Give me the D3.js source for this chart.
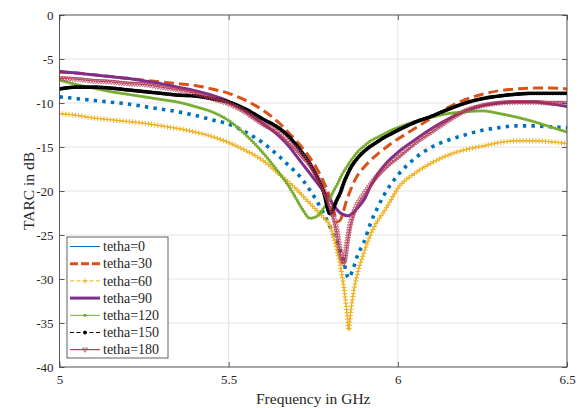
<!DOCTYPE html>
<html>
<head>
<meta charset="utf-8">
<script src="https://cdn.jsdelivr.net/npm/d3@7"></script>
<style>
  body { margin: 0; background: #fff; }
  svg { display: block; }
  svg text { font-family: "Liberation Serif", "DejaVu Serif", serif !important; fill: #262626; }
</style>
</head>
<body>
<svg id="chart" width="586" height="408"></svg>
<script>
// Frequency samples (GHz), denser around the resonance
const freq = [5.00, 5.05, 5.10, 5.15, 5.20, 5.25, 5.30, 5.35, 5.40, 5.45,
              5.50, 5.55, 5.60, 5.65, 5.68,
              5.70, 5.72, 5.74, 5.76, 5.78, 5.80,
              5.81, 5.82, 5.83, 5.84, 5.85, 5.855,
              5.86, 5.87, 5.88,
              5.90, 5.92, 5.94, 5.96, 5.98, 6.00,
              6.05, 6.10, 6.15, 6.20, 6.25, 6.30, 6.35, 6.40, 6.45, 6.50];

// TARC (dB) for each incidence angle
const tarc0 = [-9.3, -9.5, -9.7, -9.9, -10.1, -10.4, -10.7, -11.0, -11.4, -11.9,
               -12.4, -13.3, -14.5, -16.1, -17.2,
               -17.9, -18.8, -19.9, -21.1, -22.5, -24.1,
               -25.0, -25.9, -26.8, -28.0, -29.6, -29.9,
               -29.6, -28.6, -27.4,
               -25.8, -23.6, -21.9, -20.4, -19.2, -18.2,
               -16.3, -15.0, -14.2, -13.6, -13.1, -12.8, -12.6, -12.6, -12.7, -12.8];
const tarc30 = [-6.5, -6.6, -6.8, -7.0, -7.2, -7.4, -7.6, -7.8, -8.0, -8.4,
                -8.9, -9.7, -10.8, -12.3, -13.5,
                -14.3, -15.2, -16.2, -17.4, -18.9, -20.8,
                -22.1, -23.5, -23.3, -22.2, -20.9, -20.4,
                -19.9, -19.0, -18.3,
                -17.3, -16.5, -15.8, -15.2, -14.6, -14.1,
                -12.9, -11.7, -10.5, -9.6, -9.0, -8.6, -8.4, -8.3, -8.3, -8.4];
const tarc60 = [-11.2, -11.4, -11.7, -11.9, -12.1, -12.3, -12.6, -12.9, -13.3, -13.8,
                -14.5, -15.4, -16.5, -18.1, -19.1,
                -19.8, -20.6, -21.4, -22.2, -23.0, -24.0,
                -25.2, -26.7, -28.5, -30.8, -34.0, -35.8,
                -34.0, -31.3, -29.5,
                -27.0, -24.9, -23.4, -22.3, -21.0, -19.7,
                -18.0, -16.8, -15.9, -15.3, -14.9, -14.5, -14.3, -14.3, -14.4, -14.6];
const tarc90 = [-6.4, -6.6, -6.8, -7.0, -7.2, -7.5, -7.8, -8.2, -8.6, -9.1,
                -9.8, -10.9, -12.3, -13.8, -15.0,
                -16.0, -17.0, -18.0, -19.0, -20.0, -21.0,
                -21.6, -22.1, -22.5, -22.7, -22.8, -22.8,
                -22.7, -22.4, -22.0,
                -21.0, -19.4, -18.1, -17.1, -16.3, -15.6,
                -14.2, -12.9, -11.8, -10.9, -10.3, -10.0, -9.9, -9.9, -10.1, -10.4];
const tarc120 = [-7.4, -7.9, -8.3, -8.7, -9.0, -9.3, -9.6, -9.9, -10.4, -11.0,
                 -12.0, -13.6, -15.6, -18.0, -19.6,
                 -20.9, -22.2, -23.1, -22.9, -22.0, -20.8,
                 -20.0, -19.3, -18.5, -17.8, -17.2, -16.9,
                 -16.6, -16.1, -15.6,
                 -14.9, -14.3, -13.9, -13.5, -13.1, -12.8,
                 -12.1, -11.6, -11.2, -11.0, -10.9, -11.2, -11.6, -12.1, -12.7, -13.3];
const tarc150 = [-8.4, -8.2, -8.2, -8.3, -8.5, -8.7, -8.9, -9.1, -9.2, -9.5,
                 -9.9, -10.7, -11.8, -12.9, -13.9,
                 -14.8, -15.8, -16.9, -18.3, -20.0, -22.6,
                 -21.9, -21.0, -20.2, -19.1, -18.2, -17.8,
                 -17.4, -16.8, -16.3,
                 -15.5, -14.9, -14.4, -13.9, -13.5, -13.1,
                 -12.2, -11.5, -10.7, -10.0, -9.5, -9.2, -9.0, -8.9, -8.9, -8.9];
const tarc180 = [-7.2, -7.3, -7.5, -7.6, -7.8, -7.9, -8.2, -8.5, -8.9, -9.5,
                 -10.1, -11.1, -12.4, -13.5, -14.6,
                 -15.3, -16.2, -17.1, -18.4, -19.9, -21.8,
                 -23.0, -24.7, -27.0, -28.3, -26.0, -24.8,
                 -23.8, -22.5, -21.6,
                 -20.4, -19.3, -18.3, -17.5, -16.8, -16.2,
                 -14.6, -13.3, -12.0, -10.9, -10.3, -10.0, -9.9, -9.9, -10.0, -10.0];

const seriesNames = ["tetha=0", "tetha=30", "tetha=60", "tetha=90", "tetha=120", "tetha=150", "tetha=180"];
const seriesValues = [tarc0, tarc30, tarc60, tarc90, tarc120, tarc150, tarc180];

const xTicks = [5, 5.5, 6, 6.5];
const xTickLabels = ["5", "5.5", "6", "6.5"];
const yTicks = [0, -5, -10, -15, -20, -25, -30, -35, -40];
const yTickLabels = ["0", "-5", "-10", "-15", "-20", "-25", "-30", "-35", "-40"];

// Line styling for each series (plot line + legend sample)
const styles = [
  { color: "#0072BD", width: 3.6, dash: "3.4 5.2", legendWidth: 1, legendDash: null, marker: null },
  { color: "#D95319", width: 3, dash: "10 5", legendWidth: 3, legendDash: "8 3", marker: null },
  { color: "#EDB120", width: 1, dash: "4 2", legendWidth: 1, legendDash: "4 2.5", marker: "plus", spacing: 3.2 },
  { color: "#7E2F8E", width: 3, dash: null, legendWidth: 3, legendDash: null, marker: null },
  { color: "#77AC30", width: 1.2, dash: null, legendWidth: 1, legendDash: null, marker: "square", spacing: 2.6 },
  { color: "#000000", width: 1, dash: "4 2", legendWidth: 1, legendDash: "4 2.5", marker: "dot", spacing: 1.6 },
  { color: "#A2142F", width: 0.8, dash: null, legendWidth: 1, legendDash: null, marker: "tri", spacing: 2.6, markerColor: "#b03a58" }
];

const FONT = "'Liberation Serif', 'DejaVu Serif', serif";
const plot = { left: 59.5, right: 567, top: 15, bottom: 367 };
const svg = d3.select("#chart");

const x = d3.scaleLinear().domain([5, 6.5]).range([plot.left, plot.right]);
const y = d3.scaleLinear().domain([-40, 0]).range([plot.bottom, plot.top]);

svg.append("rect").attr("width", 586).attr("height", 408).attr("fill", "#fff");

// grid
const grid = svg.append("g").attr("stroke", "#e3e3e3").attr("stroke-width", 1);
grid.selectAll("line.gx").data(xTicks).join("line")
  .attr("x1", d => x(d)).attr("x2", d => x(d))
  .attr("y1", plot.top).attr("y2", plot.bottom);
grid.selectAll("line.gy").data(yTicks).join("line")
  .attr("x1", plot.left).attr("x2", plot.right)
  .attr("y1", d => y(d)).attr("y2", d => y(d));

svg.append("defs").append("clipPath").attr("id", "clip")
  .append("rect")
  .attr("x", plot.left).attr("y", plot.top)
  .attr("width", plot.right - plot.left).attr("height", plot.bottom - plot.top);

const line = d3.line()
  .x(d => x(d[0]))
  .y(d => y(d[1]))
  .curve(d3.curveMonotoneX);

function markerPath(type, px, py) {
  if (type === "plus") return `M${px - 2.6},${py}h5.2M${px},${py - 2.6}v5.2`;
  if (type === "tri") return `M${px - 2.6},${py - 1.6}L${px + 2.6},${py - 1.6}L${px},${py + 2.6}Z`;
  return null;
}

function drawMarkers(g, type, pts, st) {
  const mc = st.markerColor || st.color;
  if (type === "plus" || type === "tri") {
    g.selectAll("path.mk").data(pts).join("path")
      .attr("class", "mk")
      .attr("d", p => markerPath(type, p.x, p.y))
      .attr("fill", "none")
      .attr("stroke", mc)
      .attr("stroke-width", type === "plus" ? 1 : 0.7);
  } else if (type === "square") {
    g.selectAll("rect.mk").data(pts).join("rect")
      .attr("class", "mk")
      .attr("x", p => p.x - 1.4).attr("y", p => p.y - 1.4)
      .attr("width", 2.8).attr("height", 2.8)
      .attr("fill", mc);
  } else if (type === "dot") {
    g.selectAll("circle.mk").data(pts).join("circle")
      .attr("class", "mk")
      .attr("cx", p => p.x).attr("cy", p => p.y).attr("r", 1.9)
      .attr("fill", mc);
  }
}

const plotG = svg.append("g").attr("clip-path", "url(#clip)");

seriesValues.forEach((vals, i) => {
  const st = styles[i];
  const g = plotG.append("g");
  const data = freq.map((f, k) => [f, vals[k]]);
  const p = g.append("path")
    .datum(data)
    .attr("d", line)
    .attr("fill", "none")
    .attr("stroke", st.color)
    .attr("stroke-width", st.width)
    .attr("stroke-dasharray", st.dash)
    .attr("stroke-linejoin", "round");
  if (st.marker) {
    const node = p.node();
    const L = node.getTotalLength();
    const pts = [];
    for (let s = 0; s <= L; s += st.spacing) pts.push(node.getPointAtLength(s));
    drawMarkers(g, st.marker, pts, st);
  }
});

// axes box
svg.append("rect")
  .attr("x", plot.left).attr("y", plot.top)
  .attr("width", plot.right - plot.left).attr("height", plot.bottom - plot.top)
  .attr("fill", "none").attr("stroke", "#3a3a3a").attr("stroke-width", 0.8);

function styleAxis(g) {
  g.attr("font-family", FONT);
  g.select(".domain").remove();
  g.selectAll(".tick line").attr("stroke", "#3a3a3a").attr("stroke-width", 0.8);
  g.selectAll(".tick text").attr("font-size", 13).attr("fill", "#262626")
    .style("font-family", FONT);
}

svg.append("g").attr("transform", `translate(0,${plot.bottom})`)
  .call(d3.axisBottom(x).tickValues(xTicks).tickFormat((d, k) => xTickLabels[k])
    .tickSizeInner(-5).tickSizeOuter(0).tickPadding(8))
  .call(styleAxis);
svg.append("g").attr("transform", `translate(0,${plot.top})`)
  .call(d3.axisTop(x).tickValues(xTicks).tickFormat("").tickSizeInner(-5).tickSizeOuter(0))
  .call(styleAxis);
svg.append("g").attr("transform", `translate(${plot.left},0)`)
  .call(d3.axisLeft(y).tickValues(yTicks).tickFormat((d, k) => yTickLabels[k])
    .tickSizeInner(-5).tickSizeOuter(0).tickPadding(6))
  .call(styleAxis);
svg.append("g").attr("transform", `translate(${plot.right},0)`)
  .call(d3.axisRight(y).tickValues(yTicks).tickFormat("").tickSizeInner(-5).tickSizeOuter(0))
  .call(styleAxis);

// axis titles
svg.append("text")
  .attr("x", (plot.left + plot.right) / 2).attr("y", 404)
  .attr("text-anchor", "middle").attr("font-size", 15.5)
  .style("font-family", FONT)
  .text("Frequency in GHz");
svg.append("text")
  .attr("transform", `translate(30,${(plot.top + plot.bottom) / 2}) rotate(-90)`)
  .attr("text-anchor", "middle").attr("dominant-baseline", "middle").attr("font-size", 15.5)
  .style("font-family", FONT)
  .text("TARC in dB");

// legend
const lg = svg.append("g").attr("transform", "translate(67,237)");
lg.append("rect").attr("width", 101).attr("height", 121)
  .attr("fill", "#fff").attr("stroke", "#3a3a3a").attr("stroke-width", 0.8);
seriesNames.forEach((name, i) => {
  const st = styles[i];
  const yy = 9.5 + i * 17.2;
  const row = lg.append("g");
  row.append("line")
    .attr("x1", 3).attr("x2", 33).attr("y1", yy).attr("y2", yy)
    .attr("stroke", st.color).attr("stroke-width", st.legendWidth)
    .attr("stroke-dasharray", st.legendDash);
  if (st.marker) drawMarkers(row, st.marker, [{ x: 18, y: yy }], st);
  row.append("text")
    .attr("x", 36).attr("y", yy).attr("dy", "0.34em")
    .attr("font-size", 14)
    .style("font-family", FONT)
    .text(name);
});
</script>
</body>
</html>
